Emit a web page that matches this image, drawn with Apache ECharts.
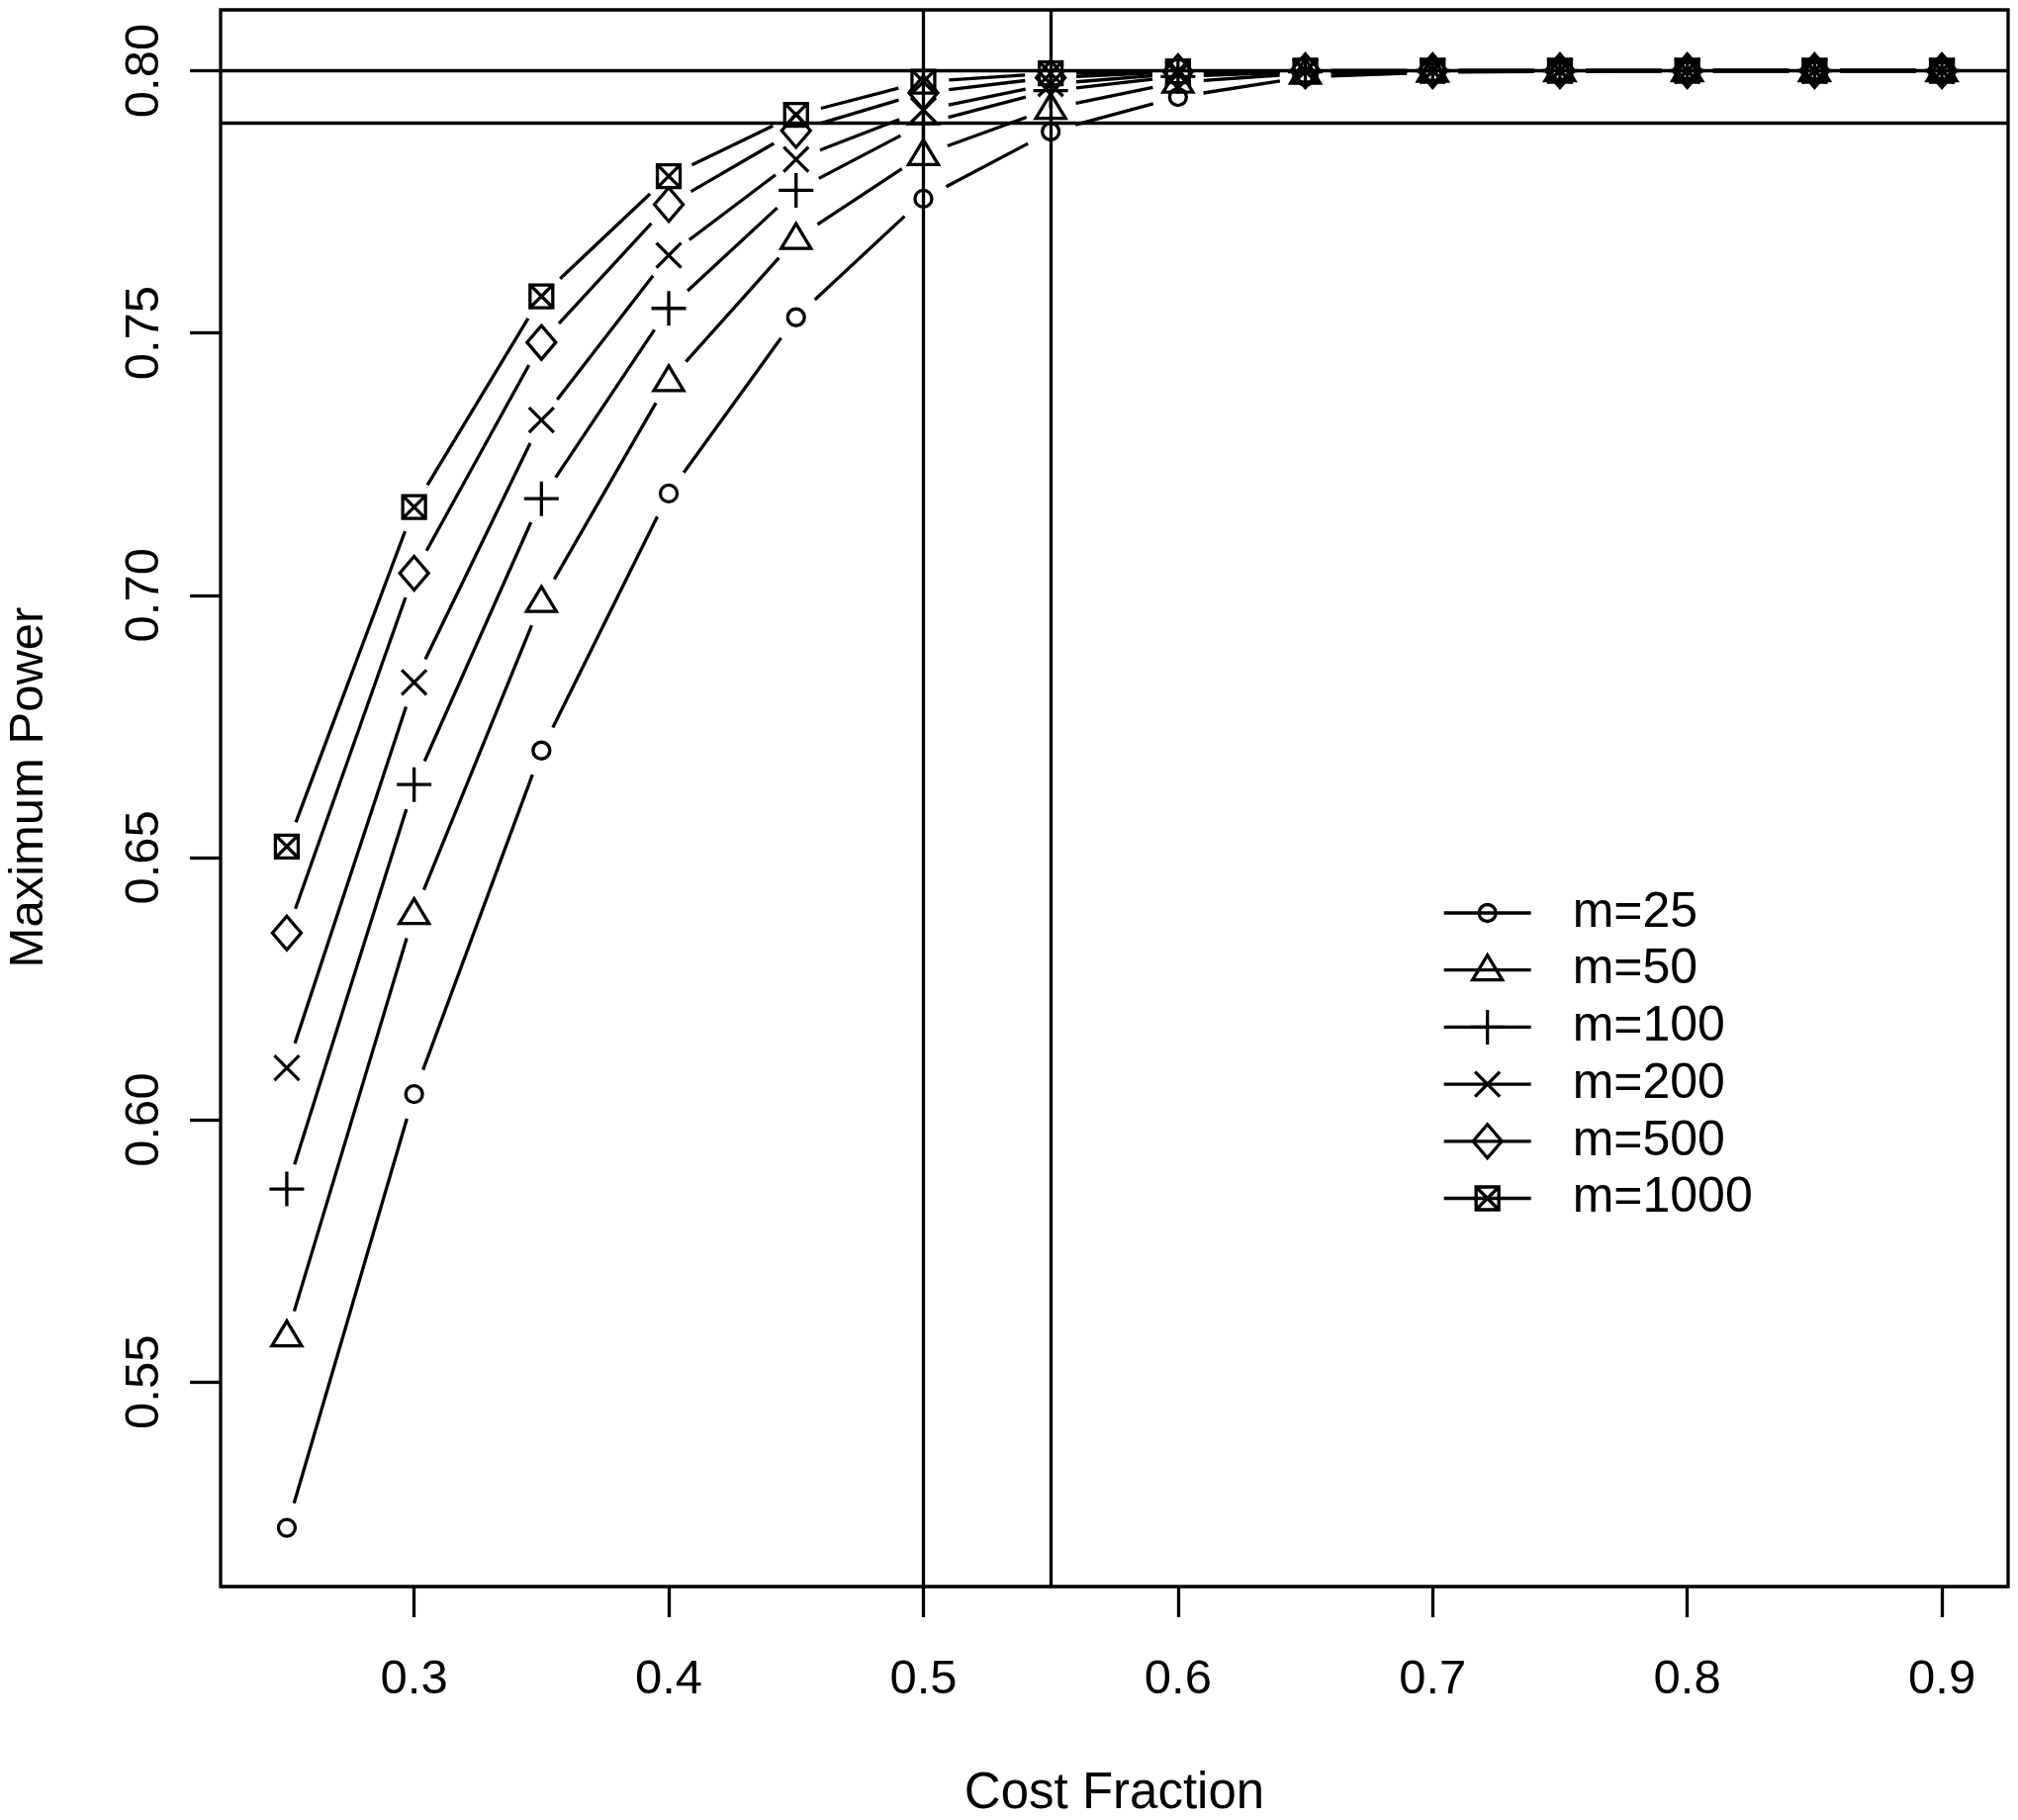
<!DOCTYPE html>
<html>
<head>
<meta charset="utf-8">
<script src="https://cdn.jsdelivr.net/npm/echarts@6/dist/echarts.min.js"></script>
<style>
html, body { margin: 0; padding: 0; background: #fff; }
#chart { width: 2040px; height: 1840px; }
</style>
</head>
<body>
<div id="chart"></div>
<script>
// data
var costFraction = [0.25, 0.30, 0.35, 0.40, 0.45, 0.50, 0.55, 0.60, 0.65, 0.70, 0.75, 0.80, 0.85, 0.90]
var m25   = [0.5222, 0.6049, 0.6704, 0.7194, 0.7530, 0.7756, 0.7884, 0.7950, 0.7988, 0.7997, 0.7999, 0.8000, 0.8000, 0.8000]
var m50   = [0.5588, 0.6393, 0.6988, 0.7409, 0.7680, 0.7840, 0.7928, 0.7978, 0.7995, 0.7999, 0.8000, 0.8000, 0.8000, 0.8000]
var m100  = [0.5868, 0.6639, 0.7184, 0.7547, 0.7772, 0.7899, 0.7962, 0.7989, 0.7998, 0.8000, 0.8000, 0.8000, 0.8000, 0.8000]
var m200  = [0.6099, 0.6834, 0.7334, 0.7648, 0.7831, 0.7925, 0.7975, 0.7994, 0.7999, 0.8000, 0.8000, 0.8000, 0.8000, 0.8000]
var m500  = [0.6356, 0.7042, 0.7482, 0.7745, 0.7886, 0.7958, 0.7987, 0.7998, 0.8000, 0.8000, 0.8000, 0.8000, 0.8000, 0.8000]
var m1000 = [0.6521, 0.7168, 0.7570, 0.7799, 0.7916, 0.7979, 0.7995, 0.7999, 0.8000, 0.8000, 0.8000, 0.8000, 0.8000, 0.8000]

var seriesNames = ['m=25', 'm=50', 'm=100', 'm=200', 'm=500', 'm=1000']
var seriesValues = [m25, m50, m100, m200, m500, m1000]
var xTicks = [0.3, 0.4, 0.5, 0.6, 0.7, 0.8, 0.9]
var yTicks = [0.55, 0.60, 0.65, 0.70, 0.75, 0.80]
var refX = [0.5, 0.55]
var refY = [0.80, 0.7905]

var font = '"Liberation Sans", Arial, Helvetica, sans-serif'
var lw = 3.3
var gap = 26

// R style plotting symbols, drawn in a 40x40 frame (corner moves fix the frame)
var pad = 'path://M-20,-20 M20,20 '
var symbols = [
  pad + 'M8.5,0 A8.5,8.5 0 1 1 -8.5,0 A8.5,8.5 0 1 1 8.5,0 Z',
  pad + 'M0,-15 L15,10 L-15,10 Z',
  pad + 'M0,-17.5 L0,17.5 M-17.5,0 L17.5,0',
  pad + 'M-12.5,-12.5 L12.5,12.5 M-12.5,12.5 L12.5,-12.5',
  pad + 'M0,-17 L14.5,0 L0,17 L-14.5,0 Z',
  pad + 'M-11.5,-11.5 L11.5,-11.5 L11.5,11.5 L-11.5,11.5 Z M-11.5,-11.5 L11.5,11.5 M-11.5,11.5 L11.5,-11.5'
]

function pairs(vals) {
  return costFraction.map(function (x, i) { return [x, vals[i]] })
}
function segments(vals) {
  var out = []
  for (var i = 0; i < costFraction.length - 1; i++) {
    out.push([costFraction[i], vals[i], costFraction[i + 1], vals[i + 1]])
  }
  return out
}
// type="b": line pieces stop short of the points
function renderSeg(params, api) {
  var a = api.coord([api.value(0), api.value(1)])
  var b = api.coord([api.value(2), api.value(3)])
  var dx = b[0] - a[0], dy = b[1] - a[1]
  var len = Math.sqrt(dx * dx + dy * dy)
  if (len <= 2 * gap) return null
  var ux = dx / len, uy = dy / len
  return {
    type: 'line',
    shape: { x1: a[0] + ux * gap, y1: a[1] + uy * gap, x2: b[0] - ux * gap, y2: b[1] - uy * gap },
    style: { stroke: '#000', lineWidth: lw }
  }
}

var series = []
seriesValues.forEach(function (vals, i) {
  series.push({
    type: 'custom',
    name: seriesNames[i] + ' segments',
    renderItem: renderSeg,
    data: segments(vals),
    encode: { x: [0, 2], y: [1, 3] },
    silent: true,
    z: 2
  })
  series.push({
    type: 'line',
    name: seriesNames[i],
    data: pairs(vals),
    symbol: symbols[i],
    symbolSize: 40,
    lineStyle: { color: '#000', width: lw, opacity: 0 },
    itemStyle: { color: 'rgba(0,0,0,0)', borderColor: '#000', borderWidth: lw },
    emphasis: { disabled: true },
    silent: true,
    clip: false,
    z: 3
  })
})
series.push({
  type: 'line',
  name: 'ref',
  data: [],
  silent: true,
  z: 4,
  markLine: {
    silent: true,
    symbol: ['none', 'none'],
    label: { show: false },
    lineStyle: { color: '#000', width: lw, type: 'solid' },
    emphasis: { disabled: true },
    data: refX.map(function (v) { return { xAxis: v } })
      .concat(refY.map(function (v) { return { yAxis: v } }))
  }
})

var chart = echarts.init(document.getElementById('chart'), null, { renderer: 'canvas' })
chart.setOption({
  animation: false,
  backgroundColor: '#fff',
  grid: {
    left: 223, right: 10, top: 10, bottom: 236,
    show: true, borderColor: '#000', borderWidth: lw,
    outerBoundsMode: 'none'
  },
  xAxis: {
    type: 'value', min: 0.224, max: 0.926,
    splitLine: { show: false },
    axisLine: { show: false },
    axisTick: { show: true, length: 31, customValues: xTicks, lineStyle: { color: '#000', width: lw } },
    axisLabel: {
      customValues: xTicks, margin: 70,
      formatter: function (v) { return v.toFixed(1) },
      fontFamily: font, fontSize: 49, color: '#000'
    },
    name: 'Cost Fraction', nameLocation: 'middle', nameGap: 184,
    nameTextStyle: { fontFamily: font, fontSize: 51, color: '#000' }
  },
  yAxis: {
    type: 'value', min: 0.511, max: 0.8116,
    splitLine: { show: false },
    axisLine: { show: false },
    axisTick: { show: true, length: 31, customValues: yTicks, lineStyle: { color: '#000', width: lw } },
    axisLabel: {
      customValues: yTicks, margin: 52, rotate: 90,
      formatter: function (v) { return v.toFixed(2) },
      fontFamily: font, fontSize: 49, color: '#000'
    },
    name: 'Maximum Power', nameLocation: 'middle', nameGap: 169,
    nameTextStyle: { fontFamily: font, fontSize: 49, color: '#000', padding: [0, 0, 0, 22] }
  },
  legend: {
    orient: 'vertical', left: 1458, top: 898, padding: 0,
    itemWidth: 88, itemHeight: 50, itemGap: 7.7,
    selectedMode: false,
    data: seriesNames,
    textStyle: { fontFamily: font, fontSize: 50, lineHeight: 34, color: '#000', padding: [16, 0, 0, 37] },
    itemStyle: { color: 'rgba(0,0,0,0)', borderColor: '#000', borderWidth: lw },
    lineStyle: { color: '#000', width: lw, opacity: 1 }
  },
  series: series
})
</script>
</body>
</html>
